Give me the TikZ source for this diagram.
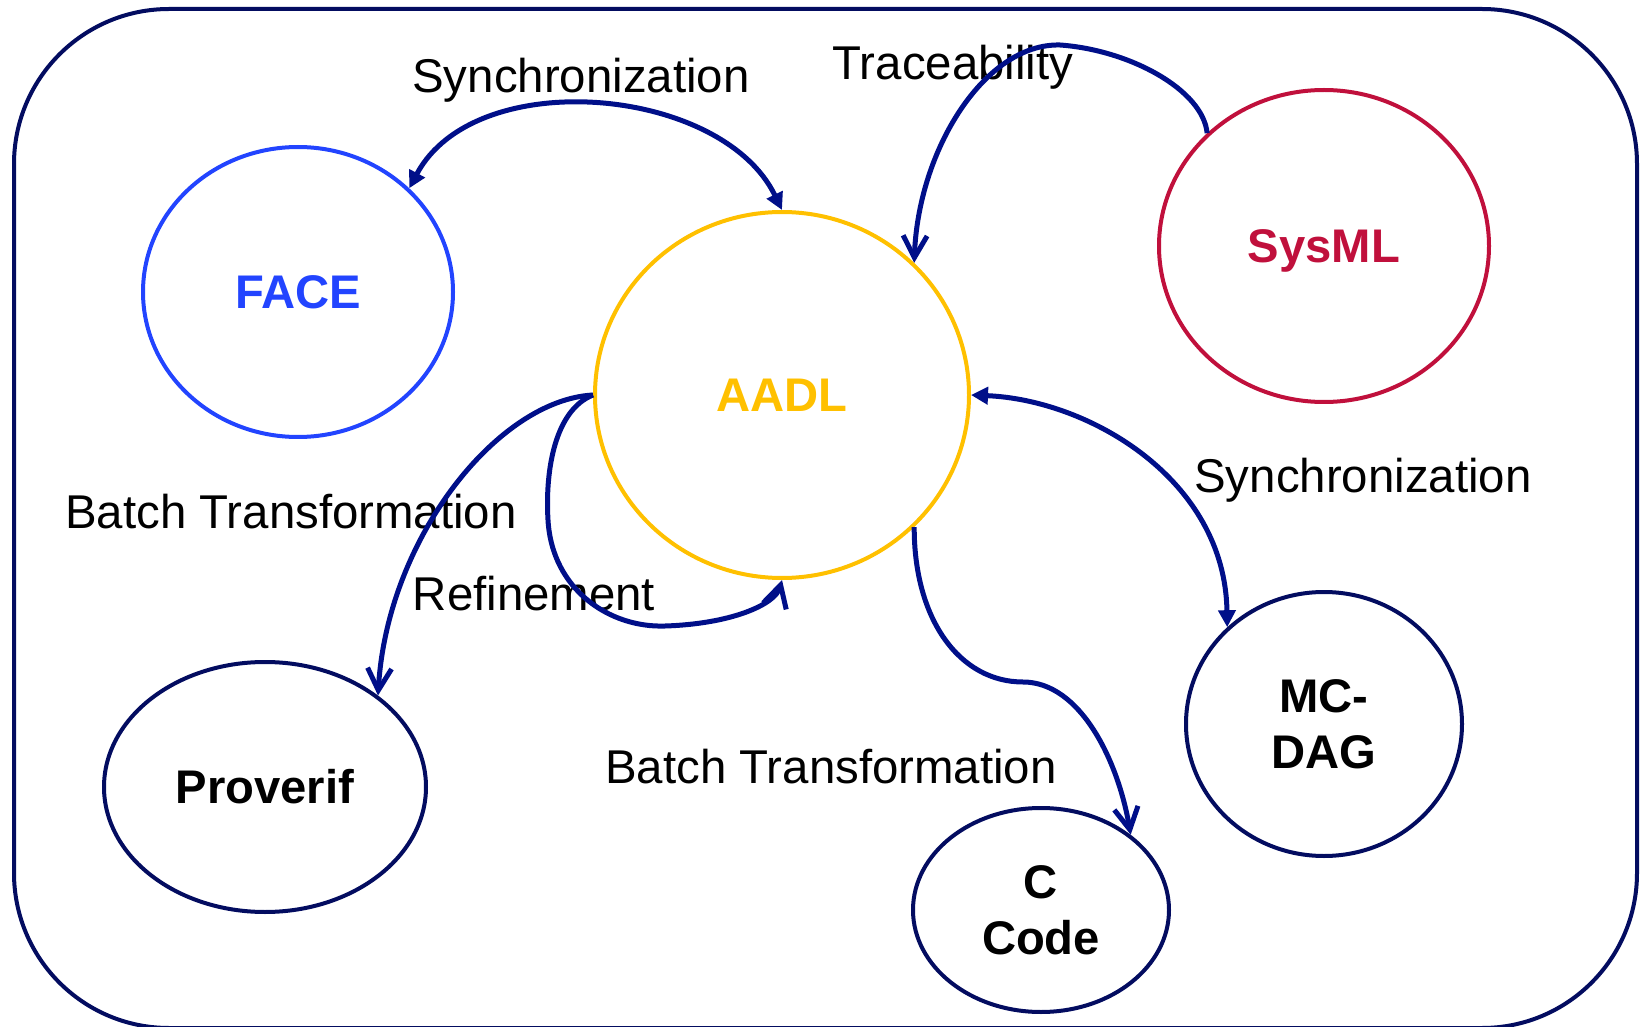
\documentclass[tikz,border=0pt]{standalone}
\usepackage{fontspec}
\setmainfont{Liberation Sans}
\usetikzlibrary{arrows.meta,shapes.geometric}
\definecolor{connblue}{RGB}{0,15,137}
\definecolor{darknavy}{RGB}{3,12,96}
\definecolor{faceblue}{RGB}{34,68,255}
\definecolor{aadlgold}{RGB}{255,192,0}
\definecolor{sysred}{RGB}{192,16,60}
\begin{document}
\begin{tikzpicture}[x=0.5pt,y=-0.5pt,
  lbl/.style={anchor=base, inner sep=0pt, font=\fontsize{23.7pt}{28pt}\selectfont},
  ell/.style={ellipse, draw, line width=2pt, inner sep=0pt, align=center,
              font=\fontsize{23.6pt}{28pt}\selectfont\bfseries},
  conn/.style={color=connblue, line width=2.5pt},
  sync/.style={conn, arrows={Triangle[length=8.5pt,width=8.5pt]-Triangle[length=8.5pt,width=8.5pt]}},
  barb/.style={conn, arrows={-Straight Barb[length=11pt,width=12pt]}},
]
\useasboundingbox (0,0) rectangle (1640,1027);
\draw[darknavy, line width=2pt, rounded corners=77.5pt] (14,9) rectangle (1637,1028);

% main nodes
\node[ell, draw=faceblue, text=faceblue, minimum width=155pt, minimum height=145pt] (face) at (298,292) {FACE};
\node[ell, draw=aadlgold, text=aadlgold, minimum width=187pt, minimum height=183pt] (aadl) at (782,395) {AADL};
\node[ell, draw=sysred, text=sysred, minimum width=165pt, minimum height=156pt, text depth=0pt] (sysml) at (1324,246) {SysML};
\node[ell, draw=darknavy, minimum width=161pt, minimum height=125pt] (proverif) at (265,787) {Proverif};
\node[ell, draw=darknavy, minimum width=138pt, minimum height=132pt] (mcdag) at (1324,724) {MC-\\DAG};
\node[ell, draw=darknavy, minimum width=128pt, minimum height=102pt] (ccode) at (1041,910) {C\\Code};

% labels
\node[lbl] (syncT) at (581,93) {Synchronization};
\node[lbl] (trace) at (953,80) {Traceability};
\node[lbl] (syncR) at (1363,492) {Synchronization};
\node[lbl] (batchL) at (291,528) {Batch Transformation};
\node[lbl] (refine) at (534,610) {Refinement};
\node[lbl] (batchB) at (831,783) {Batch Transformation};

% connectors
\draw[sync] (face.43) .. controls +(66,-124) and +(-60,-124) .. (aadl.north);
\draw[barb] (sysml.136) .. controls (1203,90) and (1130,50) .. (1060,45)
            .. controls (985,43) and (918,150) .. (aadl.45);
\draw[barb] (aadl.west) .. controls +(-95,5) and +(9,-157) .. (proverif.39);
\draw[barb] (aadl.west) .. controls (555,410) and (545,470) .. (548,520)
            .. controls (552,590) and (610,628) .. (665,626)
            .. controls (730,624) and (775,605) .. (aadl.south);
\draw[barb] (aadl.-45) .. controls (914,620) and (960,682) .. (1023,682)
            .. controls (1080,682) and (1118,760) .. (ccode.40);
\draw[sync] (aadl.east) .. controls (1090,400) and (1225,480) .. (mcdag.135);
\end{tikzpicture}
\end{document}
